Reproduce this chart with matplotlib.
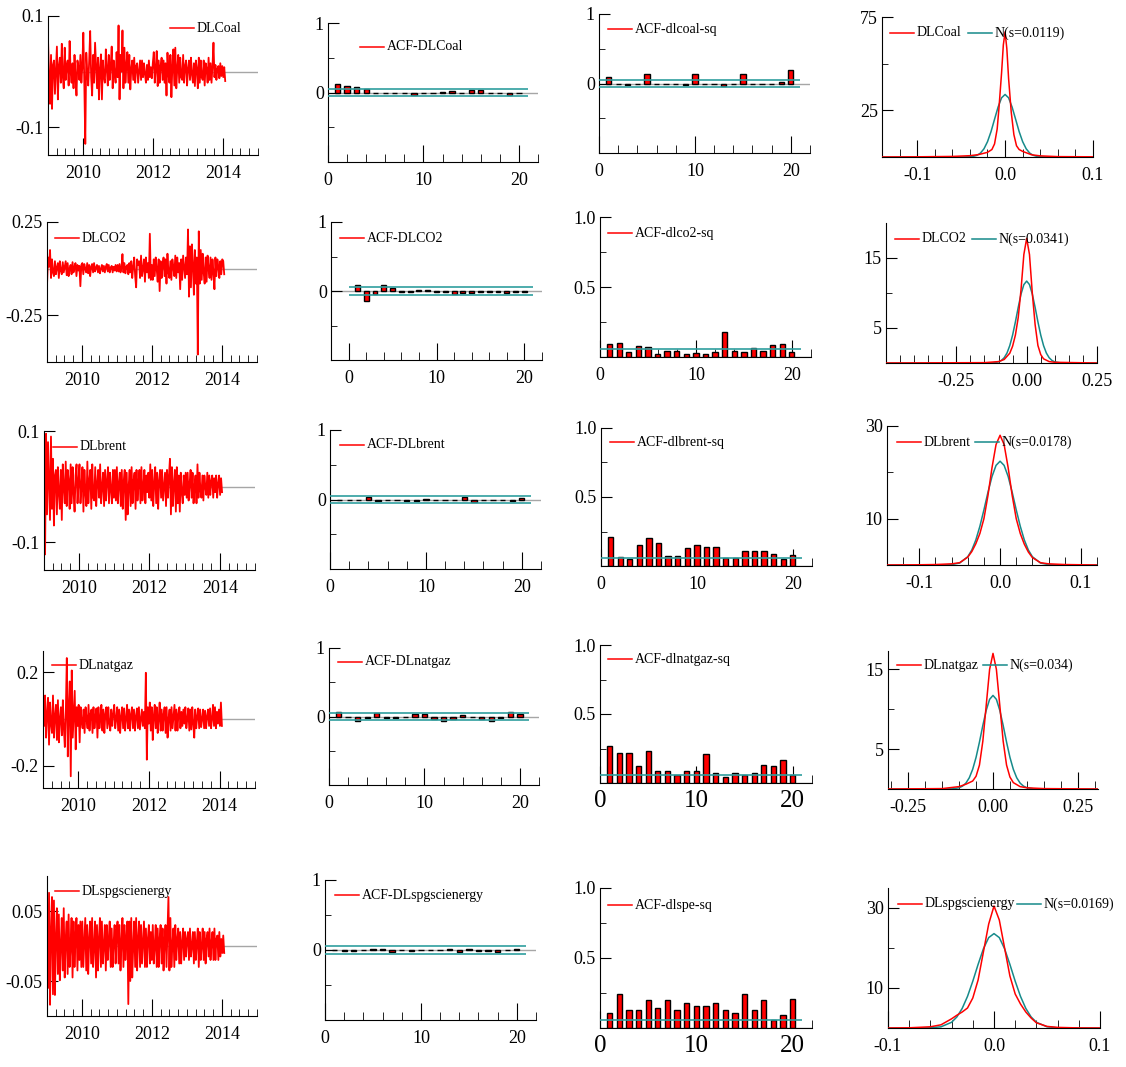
import matplotlib
matplotlib.use('Agg')
import matplotlib.pyplot as plt
import matplotlib.dates as mdates
from matplotlib.ticker import MultipleLocator, FixedLocator
import pandas as pd
from datetime import datetime

plt.rcParams['font.family'] = ['Liberation Serif', 'DejaVu Serif']
plt.rcParams['axes.unicode_minus'] = False
plt.rcParams['font.size'] = 13

W, H = 1126, 1067
RED = '#ff0000'
BAND = '#2f9e9e'
NORM = '#168a8a'
GREY = '#a6a6a6'

# ---------------- data ----------------
names = ['DLCoal', 'DLCO2', 'DLbrent', 'DLnatgaz', 'DLspgscienergy']
acf_labels = ['ACF-DLCoal', 'ACF-DLCO2', 'ACF-DLbrent', 'ACF-DLnatgaz', 'ACF-DLspgscienergy']
sq_labels = ['ACF-dlcoal-sq', 'ACF-dlco2-sq', 'ACF-dlbrent-sq', 'ACF-dlnatgaz-sq', 'ACF-dlspe-sq']
norm_labels = ['N(s=0.0119)', 'N(s=0.0341)', 'N(s=0.0178)', 'N(s=0.034)', 'N(s=0.0169)']

# log-returns, Jan 2009 - Jan 2014
dlcoal = [
    0.052, -0.01, -0.058, 0.03, -0.067, 0.012, 0.02, -0.04, 0.005, 0.045, -0.05, 0.01, 0.025, -0.02, 0.05, -0.008, -0.03, 0.043,
    -0.015, 0.01, 0.02, -0.025, 0.055, 0.0, -0.02, 0.015, -0.03, 0.03, -0.01, -0.043, 0.02, 0.008, -0.015, 0.03, -0.02, 0.01,
    0.07, -0.02, -0.13, 0.034, 0.0, -0.025, 0.02, 0.073, -0.01, -0.043, 0.03, -0.02, 0.052, 0.01, -0.03, 0.025, -0.05, 0.005,
    0.031, -0.05, 0.02, -0.01, -0.02, 0.04, 0.005, -0.025, 0.03, -0.015, 0.01, 0.045, -0.03, 0.02, -0.005, -0.02, 0.035, -0.01,
    0.083, -0.05, 0.03, 0.0, 0.074, -0.03, 0.043, -0.02, 0.01, 0.035, -0.02, 0.03, -0.032, 0.005, 0.02, -0.015, 0.025, -0.02,
    0.01, 0.015, -0.02, 0.0, 0.02, -0.015, 0.02, -0.01, 0.015, -0.005, -0.02, 0.012, -0.015, 0.02, -0.01, 0.008, -0.012, 0.015,
    0.035, -0.02, 0.005, 0.037, -0.026, 0.02, -0.02, 0.01, 0.025, -0.015, 0.02, -0.02, 0.015, -0.043, 0.034, -0.005, -0.02, 0.03,
    -0.046, 0.01, 0.04, -0.025, 0.043, -0.03, 0.005, 0.03, -0.02, 0.025, -0.01, -0.015, 0.03, -0.02, 0.01, 0.02, -0.025, 0.005,
    0.02, -0.015, 0.025, -0.005, -0.02, 0.015, -0.026, 0.02, 0.005, -0.03, 0.025, -0.02, 0.02, -0.01, -0.015, 0.02, -0.025, 0.015,
    0.005, -0.02, 0.025, -0.015, 0.015, -0.02, 0.01, 0.052, -0.01, 0.012, -0.015, 0.005, 0.01, -0.012, 0.015, -0.008, 0.01, -0.01,
    0.008, -0.017]
dlco2 = [
    -0.076, 0.06, 0.01, 0.1, -0.05, 0.05, -0.02, -0.04, 0.04, -0.03, 0.005, 0.03, -0.05, 0.04, -0.01, -0.03, 0.035, -0.02,
    0.01, 0.04, -0.035, 0.03, -0.04, 0.0, 0.02, -0.03, 0.035, -0.02, 0.01, 0.03, -0.04, 0.02, -0.01, 0.015, -0.094, 0.02,
    0.03, -0.03, 0.025, 0.0, -0.02, 0.03, -0.025, 0.02, -0.04, 0.01, 0.025, -0.02, 0.03, -0.015, 0.005, 0.02, -0.02, 0.015,
    -0.025, 0.0, 0.02, -0.015, 0.015, -0.02, 0.01, 0.025, -0.015, 0.02, -0.02, 0.005, 0.015, -0.02, 0.01, -0.01, 0.02, -0.015,
    0.02, -0.015, 0.025, -0.02, 0.005, 0.078, -0.02, 0.03, -0.025, 0.01, 0.02, -0.03, 0.03, -0.02, 0.04, -0.05, 0.01, 0.06,
    -0.04, -0.1, 0.05, 0.02, 0.04, -0.05, 0.07, -0.04, 0.0, 0.05, -0.07, 0.06, -0.02, 0.03, -0.05, 0.187, -0.06, 0.02,
    -0.06, 0.05, -0.04, 0.06, 0.0, -0.07, 0.05, -0.12, 0.04, -0.05, 0.02, 0.06, -0.04, 0.05, -0.08, 0.08, -0.02, -0.05,
    0.04, -0.06, 0.05, 0.01, -0.04, 0.07, -0.05, 0.06, -0.02, 0.03, -0.11, 0.05, -0.06, 0.07, 0.01, -0.05, 0.06, -0.03,
    0.21, -0.15, 0.12, -0.1, 0.13, 0.02, -0.14, 0.1, -0.08, 0.06, -0.46, 0.2, -0.08, 0.1, -0.06, 0.08, -0.02, -0.08,
    0.06, -0.07, 0.07, 0.0, -0.05, 0.06, -0.06, 0.05, -0.02, -0.11, 0.06, -0.04, 0.05, 0.01, -0.05, 0.04, -0.03, 0.05,
    0.04, -0.03]
dlbrent = [
    0.02, -0.122, 0.095, -0.05, 0.08, 0.01, -0.06, 0.09, -0.04, 0.05, -0.07, 0.02, 0.03, -0.05, 0.035, -0.01, -0.04, 0.03,
    -0.06, 0.04, 0.0, -0.03, 0.045, -0.035, 0.03, 0.01, -0.04, 0.04, -0.03, 0.035, -0.01, -0.045, 0.02, 0.04, -0.03, 0.01,
    0.04, -0.03, 0.0, 0.035, -0.045, 0.03, -0.01, -0.035, 0.045, -0.03, 0.01, 0.03, -0.04, 0.04, -0.02, -0.025, 0.035, -0.035,
    0.005, 0.03, -0.02, 0.04, -0.03, 0.0, 0.025, -0.035, 0.03, -0.025, 0.01, 0.035, -0.03, 0.025, -0.005, -0.03, 0.03, -0.02,
    0.03, -0.025, 0.035, -0.03, 0.005, 0.025, -0.035, 0.03, -0.04, 0.01, 0.03, -0.06, 0.025, -0.05, 0.0, 0.03, -0.035, 0.035,
    -0.03, 0.01, 0.025, -0.04, 0.03, -0.025, 0.005, 0.03, -0.03, 0.035, -0.025, 0.0, 0.03, -0.03, 0.02, -0.01, 0.025, -0.02,
    0.04, -0.025, 0.03, -0.035, 0.005, 0.035, -0.03, 0.025, -0.04, 0.01, 0.03, -0.02, 0.03, -0.025, 0.0, 0.025, -0.035, 0.03,
    -0.02, 0.02, 0.05, -0.05, 0.035, -0.035, 0.005, 0.03, -0.045, 0.035, -0.03, 0.02, -0.045, 0.025, -0.01, -0.03, 0.02, -0.015,
    0.025, -0.02, 0.025, -0.025, 0.005, 0.03, -0.02, 0.025, -0.03, 0.0, 0.02, -0.03, 0.04, -0.02, 0.025, -0.005, -0.02, 0.02,
    -0.025, 0.02, 0.0, -0.015, 0.025, -0.02, 0.02, -0.015, 0.01, 0.02, -0.02, 0.015, -0.01, 0.02, -0.02, 0.005, 0.02, -0.015,
    0.015, -0.01]
dlnatgaz = [
    0.05, -0.03, 0.1, -0.08, 0.02, 0.09, -0.11, 0.07, -0.02, -0.06, 0.1, -0.08, 0.01, 0.06, -0.09, 0.08, -0.1, 0.0,
    0.05, -0.07, 0.08, -0.04, -0.12, 0.03, 0.26, -0.16, 0.05, 0.16, -0.245, 0.207, -0.08, 0.02, 0.12, -0.13, 0.05, -0.03,
    0.06, -0.1, 0.05, -0.01, -0.04, 0.04, -0.06, 0.05, 0.0, -0.04, 0.06, -0.05, 0.02, 0.04, -0.06, 0.05, -0.04, 0.01,
    0.045, -0.08, 0.05, -0.04, 0.0, 0.06, -0.05, 0.04, -0.06, 0.02, 0.05, -0.04, 0.05, -0.02, -0.05, 0.04, -0.03, 0.02,
    0.06, -0.04, 0.0, 0.05, -0.05, 0.04, -0.06, 0.01, 0.05, -0.04, 0.045, -0.05, 0.0, 0.06, -0.04, 0.04, -0.05, 0.02,
    0.05, -0.04, 0.04, -0.05, 0.01, 0.045, -0.04, 0.05, -0.045, 0.0, 0.04, -0.03, 0.03, -0.04, 0.197, -0.174, 0.05, -0.02,
    0.07, -0.05, 0.05, -0.09, 0.01, 0.06, -0.04, 0.05, -0.06, 0.0, 0.07, -0.05, 0.04, -0.05, 0.02, 0.05, -0.06, 0.05,
    -0.08, 0.0, 0.04, -0.05, 0.05, -0.04, 0.01, 0.06, -0.05, 0.04, -0.05, 0.02, 0.05, -0.04, 0.03, -0.03, 0.04, -0.02,
    0.05, -0.04, 0.0, 0.045, -0.05, 0.04, -0.045, 0.05, -0.02, -0.08, 0.04, -0.04, 0.01, 0.045, -0.04, 0.04, -0.035, 0.0,
    0.04, -0.04, 0.035, -0.04, 0.01, 0.04, -0.03, 0.045, -0.04, 0.0, 0.06, -0.03, 0.05, -0.04, 0.03, -0.02, 0.04, -0.03,
    0.07, -0.03]
dlspgsci = [
    0.05, -0.06, 0.076, -0.084, 0.02, 0.07, -0.069, 0.065, -0.07, 0.01, 0.054, -0.04, 0.045, -0.049, 0.0, 0.04, -0.035, 0.054,
    -0.045, 0.01, 0.035, -0.04, 0.045, -0.03, 0.0, 0.04, -0.045, 0.035, -0.03, 0.01, 0.04, -0.035, 0.03, -0.02, 0.035, -0.03,
    0.035, -0.03, 0.005, 0.04, -0.035, 0.03, -0.04, 0.01, 0.035, -0.025, 0.04, -0.03, 0.0, 0.035, -0.045, 0.03, -0.035, 0.01,
    0.04, -0.03, 0.035, -0.025, 0.0, 0.03, -0.035, 0.03, -0.02, 0.01, 0.035, -0.03, 0.025, -0.03, 0.005, 0.03, -0.025, 0.02,
    0.035, -0.025, 0.03, -0.035, 0.005, 0.04, -0.03, 0.03, -0.02, 0.01, 0.035, -0.083, 0.035, -0.05, 0.04, -0.045, 0.0, 0.035,
    -0.03, 0.04, -0.035, 0.01, 0.035, -0.03, 0.03, -0.025, 0.005, 0.035, -0.03, 0.025, -0.03, 0.01, 0.03, -0.025, 0.02, -0.02,
    0.03, -0.025, 0.0, 0.03, -0.03, 0.025, -0.03, 0.01, 0.03, -0.025, 0.025, -0.035, 0.005, 0.03, -0.03, 0.02, 0.07, -0.035,
    0.04, -0.03, 0.0, 0.025, -0.03, 0.03, -0.02, 0.01, 0.025, -0.025, 0.02, -0.025, 0.005, 0.025, -0.02, 0.02, -0.015, 0.01,
    0.02, -0.02, 0.025, -0.015, 0.0, 0.02, -0.025, 0.02, -0.02, 0.005, 0.025, -0.03, 0.02, -0.02, 0.0, 0.025, -0.02, 0.02,
    -0.025, 0.01, 0.02, -0.015, 0.025, -0.02, 0.005, 0.02, -0.02, 0.025, -0.02, 0.01, 0.015, -0.02, 0.02, -0.015, 0.01, -0.01,
    0.015, -0.01]
series = [dlcoal, dlco2, dlbrent, dlnatgaz, dlspgsci]

lags = list(range(1, 21))
acf_coal = [0.12, 0.09, 0.08, 0.05, 0.0, -0.01, -0.01, -0.005, -0.03, 0.0,
            0.0, 0.01, 0.02, 0.0, 0.03, 0.04, 0.0, -0.01, -0.04, -0.01]
acf_co2 = [0.08, -0.15, -0.05, 0.085, 0.04, -0.01, -0.01, 0.01, 0.01, -0.01,
           -0.01, -0.05, -0.03, -0.03, -0.01, -0.02, -0.01, -0.03, -0.02, -0.01]
acf_brent = [-0.01, -0.01, 0.0, 0.03, -0.02, 0.0, 0.0, -0.02, -0.02, 0.01,
             0.0, -0.01, 0.0, 0.03, -0.03, 0.0, 0.0, 0.0, -0.02, 0.02]
acf_natgaz = [0.06, -0.01, -0.07, -0.02, 0.045, -0.02, -0.02, -0.01, 0.03, 0.04,
              -0.03, -0.07, -0.03, 0.02, 0.0, -0.03, -0.06, -0.02, 0.07, 0.03]
acf_spgsci = [0.0, -0.01, -0.01, 0.0, 0.02, 0.01, -0.03, 0.0, -0.02, 0.0,
              0.0, 0.0, 0.02, -0.03, 0.02, -0.02, -0.02, -0.03, 0.0, 0.01]
acf_vals = [acf_coal, acf_co2, acf_brent, acf_natgaz, acf_spgsci]

sq_coal = [0.087, -0.01, -0.02, -0.01, 0.135, -0.01, -0.01, -0.01, -0.02, 0.14,
           -0.01, -0.01, -0.03, -0.01, 0.14, 0.0, -0.01, -0.01, 0.02, 0.19]
sq_co2 = [0.093, 0.1, 0.033, 0.076, 0.069, 0.024, 0.04, 0.045, 0.024, 0.029,
          0.02, 0.033, 0.18, 0.045, 0.038, 0.064, 0.045, 0.088, 0.093, 0.038]
sq_brent = [0.21, 0.065, 0.05, 0.15, 0.2, 0.17, 0.07, 0.07, 0.13, 0.15,
            0.14, 0.14, 0.06, 0.06, 0.11, 0.11, 0.11, 0.09, 0.05, 0.08]
sq_natgaz = [0.27, 0.22, 0.22, 0.12, 0.23, 0.09, 0.09, 0.06, 0.09, 0.09,
             0.21, 0.07, 0.04, 0.07, 0.06, 0.07, 0.13, 0.12, 0.17, 0.06]
sq_spgsci = [0.11, 0.24, 0.13, 0.13, 0.2, 0.14, 0.2, 0.13, 0.18, 0.16,
             0.16, 0.18, 0.13, 0.11, 0.24, 0.13, 0.2, 0.06, 0.09, 0.21]
sq_vals = [sq_coal, sq_co2, sq_brent, sq_natgaz, sq_spgsci]
conf_band = 0.055

kde_x_coal = [-0.14, -0.1, -0.06, -0.04, -0.03, -0.02, -0.015, -0.012, -0.009, -0.007, -0.004, -0.002,
              0.0, 0.002, 0.004, 0.007, 0.01, 0.013, 0.016, 0.02, 0.03, 0.04, 0.06, 0.1]
kde_y_coal = [0.0, 0.1, 0.3, 0.7, 1.3, 2.5, 4.0, 7.0, 15.0, 26.0, 45.0, 60.0,
              67.0, 58.0, 42.0, 24.0, 12.0, 6.0, 4.0, 3.0, 1.2, 0.6, 0.2, 0.1]
norm_x_coal = [-0.14, -0.05, -0.04, -0.036, -0.032, -0.028, -0.024, -0.02, -0.016, -0.012, -0.008, -0.004,
               0.0, 0.004, 0.008, 0.012, 0.016, 0.02, 0.024, 0.028, 0.032, 0.036, 0.04, 0.05, 0.1]
norm_y_coal = [0.0, 0.005, 0.12, 0.35, 0.9, 2.1, 4.4, 8.2, 13.6, 20.2, 26.7, 31.7,
               33.5, 31.7, 26.7, 20.2, 13.6, 8.2, 4.4, 2.1, 0.9, 0.35, 0.12, 0.005, 0.0]

kde_x_co2 = [-0.5, -0.15, -0.1, -0.08, -0.06, -0.05, -0.04, -0.03, -0.02, -0.01, 0.0,
             0.01, 0.02, 0.03, 0.04, 0.05, 0.06, 0.08, 0.1, 0.25]
kde_y_co2 = [0.0, 0.05, 0.2, 0.5, 1.4, 2.4, 4.0, 6.5, 10.5, 15.5, 17.8,
             15.5, 10.0, 5.5, 2.5, 1.2, 0.6, 0.2, 0.1, 0.0]
norm_x_co2 = [-0.5, -0.12, -0.1, -0.09, -0.08, -0.07, -0.06, -0.05, -0.04, -0.03, -0.02, -0.01, 0.0,
              0.01, 0.02, 0.03, 0.04, 0.05, 0.06, 0.07, 0.08, 0.09, 0.1, 0.12, 0.25]
norm_y_co2 = [0.0, 0.02, 0.16, 0.36, 0.75, 1.42, 2.49, 3.99, 5.88, 7.95, 9.85, 11.2, 11.7,
              11.2, 9.85, 7.95, 5.88, 3.99, 2.49, 1.42, 0.75, 0.36, 0.16, 0.02, 0.0]

kde_x_brent = [-0.14, -0.1, -0.08, -0.06, -0.05, -0.04, -0.035, -0.03, -0.025, -0.02, -0.015, -0.01, -0.005,
               0.0, 0.005, 0.01, 0.015, 0.02, 0.025, 0.03, 0.035, 0.04, 0.05, 0.06, 0.08, 0.1, 0.12]
kde_y_brent = [0.0, 0.05, 0.1, 0.25, 0.5, 1.7, 2.9, 4.6, 6.8, 10.0, 15.0, 21.0, 26.0,
               28.0, 26.0, 21.0, 15.0, 10.0, 6.8, 4.5, 2.8, 1.6, 0.5, 0.25, 0.1, 0.05, 0.0]
norm_x_brent = [-0.14, -0.08, -0.06, -0.05, -0.04, -0.035, -0.03, -0.025, -0.02, -0.015, -0.01, -0.005,
                0.0, 0.005, 0.01, 0.015, 0.02, 0.025, 0.03, 0.035, 0.04, 0.05, 0.06, 0.08, 0.12]
norm_y_brent = [0.0, 0.0, 0.08, 0.43, 1.79, 3.24, 5.41, 8.36, 11.9, 15.7, 19.1, 21.5,
                22.4, 21.5, 19.1, 15.7, 11.9, 8.36, 5.41, 3.24, 1.79, 0.43, 0.08, 0.0, 0.0]

kde_x_natgaz = [-0.31, -0.15, -0.1, -0.08, -0.06, -0.05, -0.04, -0.03, -0.02, -0.01, 0.0,
                0.01, 0.02, 0.03, 0.04, 0.05, 0.06, 0.08, 0.1, 0.15, 0.31]
kde_y_natgaz = [0.0, 0.05, 0.3, 0.6, 1.0, 1.6, 3.0, 6.0, 10.5, 15.0, 17.0,
                15.0, 10.5, 6.0, 3.0, 1.5, 0.8, 0.3, 0.15, 0.05, 0.0]
norm_x_natgaz = [-0.31, -0.12, -0.1, -0.09, -0.08, -0.07, -0.06, -0.05, -0.04, -0.03, -0.02, -0.01, 0.0,
                 0.01, 0.02, 0.03, 0.04, 0.05, 0.06, 0.07, 0.08, 0.09, 0.1, 0.12, 0.31]
norm_y_natgaz = [0.0, 0.02, 0.16, 0.36, 0.74, 1.41, 2.47, 3.97, 5.88, 7.97, 9.87, 11.24, 11.73,
                 11.24, 9.87, 7.97, 5.88, 3.97, 2.47, 1.41, 0.74, 0.36, 0.16, 0.02, 0.0]

kde_x_spgsci = [-0.1, -0.08, -0.06, -0.05, -0.04, -0.035, -0.03, -0.025, -0.02, -0.015, -0.01, -0.005,
                0.0, 0.005, 0.01, 0.015, 0.02, 0.025, 0.03, 0.035, 0.04, 0.05, 0.06, 0.08, 0.1]
kde_y_spgsci = [0.0, 0.05, 0.3, 0.8, 2.3, 3.2, 4.0, 5.0, 7.5, 12.0, 19.0, 26.0,
                30.5, 27.0, 20.0, 13.0, 8.5, 6.0, 4.0, 2.5, 1.3, 0.4, 0.15, 0.02, 0.0]
norm_x_spgsci = [-0.1, -0.06, -0.05, -0.04, -0.035, -0.03, -0.025, -0.02, -0.015, -0.01, -0.005,
                 0.0, 0.005, 0.01, 0.015, 0.02, 0.025, 0.03, 0.035, 0.04, 0.05, 0.06, 0.1]
norm_y_spgsci = [0.0, 0.05, 0.3, 1.43, 2.77, 4.9, 7.9, 11.7, 15.9, 19.8, 22.6,
                 23.6, 22.6, 19.8, 15.9, 11.7, 7.9, 4.9, 2.77, 1.43, 0.3, 0.05, 0.0]

kde_x = [kde_x_coal, kde_x_co2, kde_x_brent, kde_x_natgaz, kde_x_spgsci]
kde_y = [kde_y_coal, kde_y_co2, kde_y_brent, kde_y_natgaz, kde_y_spgsci]
norm_x = [norm_x_coal, norm_x_co2, norm_x_brent, norm_x_natgaz, norm_x_spgsci]
norm_y = [norm_y_coal, norm_y_co2, norm_y_brent, norm_y_natgaz, norm_y_spgsci]

# ---------------- axis settings per row ----------------
ts_ylim = [(-0.15, 0.1), (-0.5, 0.25), (-0.15, 0.1), (-0.295, 0.29), (-0.1, 0.1)]
ts_yticks = [[-0.1, 0.1], [-0.25, 0.25], [-0.1, 0.1], [-0.2, 0.2], [-0.05, 0.05]]
ts_ylabels = [['-0.1', '0.1'], ['-0.25', '0.25'], ['-0.1', '0.1'], ['-0.2', '0.2'], ['-0.05', '0.05']]

den_xlim = [(-0.14, 0.1), (-0.5, 0.25), (-0.14, 0.12), (-0.31, 0.31), (-0.1, 0.1)]
den_xticks = [[-0.1, 0.0, 0.1], [-0.25, 0.0, 0.25], [-0.1, 0.0, 0.1], [-0.25, 0.0, 0.25], [-0.1, 0.0, 0.1]]
den_xlabels = [['-0.1', '0.0', '0.1'], ['-0.25', '0.00', '0.25'], ['-0.1', '0.0', '0.1'],
               ['-0.25', '0.00', '0.25'], ['-0.1', '0.0', '0.1']]
den_xminor = [0.02, 0.05, 0.02, 0.05, 0.02]
den_ylim = [(0, 75), (0, 20), (0, 30), (0, 17.3), (0, 35)]
den_yticks = [[25, 75], [5, 15], [10, 30], [5, 15], [10, 30]]
den_yminor = [[50], [10], [20], [10], [20]]

# axes boxes in pixels: (left, top, right, bottom)
boxes = [
    [(48, 16, 258, 155), (328, 23, 538, 162), (599, 14, 810, 153), (882, 17, 1093, 157)],
    [(47, 222, 257, 362), (331, 222, 542, 360), (600, 217, 811, 357), (886, 223, 1097, 363)],
    [(44, 431, 255, 570), (330, 430, 541, 569), (601, 428, 812, 566), (887, 426, 1097, 565)],
    [(43, 651, 255, 788), (329, 648, 539, 785), (600, 645, 812, 783), (888, 651, 1098, 789)],
    [(47, 876, 257, 1016), (325, 880, 536, 1020), (600, 888, 812, 1028), (888, 888, 1100, 1028)],
]
# legend key positions in pixels (line start x, y)
keys = [
    [(170, 28), (360, 47), (608, 29), (890, 33, 968)],
    [(55, 238), (340, 238), (608, 233), (895, 239, 972)],
    [(53, 447), (340, 445), (610, 442), (897, 442, 975)],
    [(52, 665), (338, 662), (608, 659), (897, 665, 983)],
    [(55, 891), (335, 895), (608, 905), (898, 904, 1017)],
]

fig = plt.figure(figsize=(W / 100, H / 100), dpi=100)


def make_ax(box):
    l, t, r, b = box
    ax = fig.add_axes([l / W, 1 - b / H, (r - l) / W, (b - t) / H])
    ax.spines['top'].set_visible(False)
    ax.spines['right'].set_visible(False)
    ax.tick_params(which='both', direction='in', colors='black')
    ax.tick_params(axis='x', which='major', length=12, pad=7)
    ax.tick_params(axis='x', which='minor', length=6)
    ax.tick_params(axis='y', which='major', length=8, pad=3)
    ax.tick_params(axis='y', which='minor', length=4)
    ax.patch.set_visible(False)
    return ax


def add_key(x, y, label, color):
    fx, fy = x / W, 1 - y / H
    fig.add_artist(plt.Line2D([fx, fx + 24 / W], [fy, fy], color=color, lw=1.1,
                              transform=fig.transFigure))
    fig.text(fx + 27 / W, fy, label, fontsize=10, va='center', ha='left')


def acf_axes(ax, lag_vals, xlim, full_range):
    ax.axhline(0, color=GREY, lw=1, zorder=0)
    ax.bar(lags, lag_vals, width=0.55, color=RED, edgecolor='black', lw=1, zorder=2)
    ax.hlines([conf_band, -conf_band], 0, 21, color=BAND, lw=1.2, zorder=3)
    ax.set_xlim(*xlim)
    ax.set_xticks([0, 10, 20])
    ax.xaxis.set_minor_locator(MultipleLocator(2))
    if full_range:
        ax.set_ylim(-1, 1)
        ax.set_yticks([0, 1])
        ax.set_yticklabels(['0', '1'])
        ax.yaxis.set_minor_locator(FixedLocator([-0.5, 0.5]))
    else:
        ax.set_ylim(0, 1)
        ax.set_yticks([0.5, 1.0])
        ax.set_yticklabels(['0.5', '1.0'])
        ax.yaxis.set_minor_locator(FixedLocator([0.25, 0.75]))


for i in range(5):
    # time series
    ax = make_ax(boxes[i][0])
    dates = pd.date_range('2009-01-02', '2014-01-24', periods=len(series[i]))
    ax.axhline(0, color=GREY, lw=1, zorder=1)
    ax.plot(dates, series[i], color=RED, lw=1.3, zorder=2)
    ax.set_xlim(datetime(2009, 1, 1), datetime(2015, 1, 1))
    ax.set_ylim(*ts_ylim[i])
    ax.xaxis.set_major_locator(mdates.YearLocator(2))
    ax.xaxis.set_major_formatter(mdates.DateFormatter('%Y'))
    ax.xaxis.set_minor_locator(mdates.MonthLocator(bymonth=[1, 4, 7, 10]))
    ax.set_yticks(ts_yticks[i])
    ax.set_yticklabels(ts_ylabels[i])
    ax.tick_params(axis='x', which='minor', length=5)
    add_key(keys[i][0][0], keys[i][0][1], names[i], RED)

    # ACF of returns
    ax = make_ax(boxes[i][1])
    acf_axes(ax, acf_vals[i], (-2, 22) if i == 1 else (0, 22), True)
    add_key(keys[i][1][0], keys[i][1][1], acf_labels[i], RED)

    # ACF of squared returns
    ax = make_ax(boxes[i][2])
    acf_axes(ax, sq_vals[i], (0, 22), i == 0)
    if i >= 3:
        ax.tick_params(axis='x', which='major', labelsize=18, pad=5)
    add_key(keys[i][2][0], keys[i][2][1], sq_labels[i], RED)

    # density vs normal
    ax = make_ax(boxes[i][3])
    ax.plot(norm_x[i], norm_y[i], color=NORM, lw=1.1, zorder=2)
    ax.plot(kde_x[i], kde_y[i], color=RED, lw=1.1, zorder=3)
    ax.set_xlim(*den_xlim[i])
    ax.set_ylim(*den_ylim[i])
    ax.set_xticks(den_xticks[i])
    ax.set_xticklabels(den_xlabels[i])
    ax.xaxis.set_minor_locator(MultipleLocator(den_xminor[i]))
    ax.set_yticks(den_yticks[i])
    ax.yaxis.set_minor_locator(FixedLocator(den_yminor[i]))
    kx, ky, nx = keys[i][3]
    add_key(kx, ky, names[i], RED)
    add_key(nx, ky, norm_labels[i], NORM)

fig.savefig('out.png', dpi=100)
